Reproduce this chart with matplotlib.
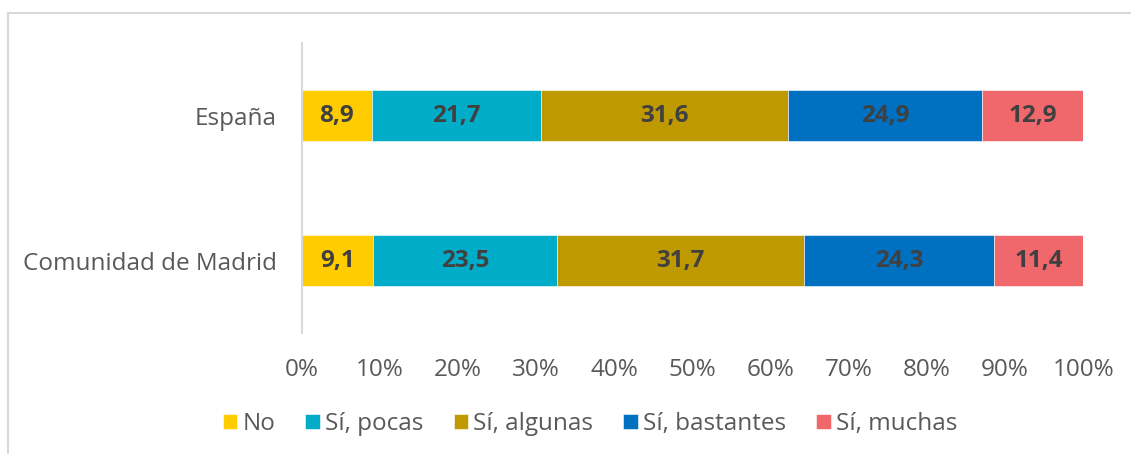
import matplotlib
matplotlib.use("Agg")
import matplotlib.pyplot as plt
from matplotlib.lines import Line2D

plt.rcParams["font.family"] = ["Open Sans", "DejaVu Sans"]

# datos
regiones = ["Comunidad de Madrid", "España"]
series = ["No", "Sí, pocas", "Sí, algunas", "Sí, bastantes", "Sí, muchas"]
madrid = [9.1, 23.5, 31.7, 24.3, 11.4]
espana = [8.9, 21.7, 31.6, 24.9, 12.9]
colores = ["#FFCC00", "#00ACC8", "#BF9900", "#0070C0", "#F0686C"]
ticks_x = [0, 10, 20, 30, 40, 50, 60, 70, 80, 90, 100]

valores = [madrid, espana]

fig = plt.figure(figsize=(11.31, 4.54), dpi=100)
ax = fig.add_axes([0.267, 0.2665, 0.6908, 0.6385])

gris_txt = "#595959"
fs = 17.5
for i, nombre in enumerate(series):
    vals = [v[i] for v in valores]
    izq = [sum(v[:i]) for v in valores]
    bars = ax.barh(range(len(regiones)), vals, left=izq, height=0.356,
                   color=colores[i], edgecolor="white", linewidth=0.4, label=nombre)
    for b, v in zip(bars, vals):
        ax.text(b.get_x() + b.get_width() / 2, b.get_y() + b.get_height() / 2,
                f"{v:.1f}".replace(".", ","), ha="center", va="center",
                fontsize=fs, fontweight="bold", color="#404040")

ax.set_xlim(0, 100)
ax.set_ylim(-0.5, 1.5)
ax.set_yticks(range(len(regiones)))
ax.set_yticklabels(regiones, fontsize=fs, color=gris_txt)
ax.set_xticks(ticks_x)
ax.set_xticklabels([f"{t}%" for t in ticks_x], fontsize=fs, color=gris_txt)
ax.tick_params(length=0)
ax.tick_params(axis="y", pad=18)
ax.tick_params(axis="x", pad=18)
for s in ["top", "right", "bottom"]:
    ax.spines[s].set_visible(False)
ax.spines["left"].set_color("#d9d9d9")
ax.spines["left"].set_linewidth(1.5)

ax.legend(loc="center", bbox_to_anchor=(590 / 1131, 1 - 424 / 454), bbox_transform=fig.transFigure,
          ncol=5, frameon=False, fontsize=fs, handlelength=0.6, handleheight=0.6,
          handletextpad=0.2, columnspacing=1.25, labelcolor=gris_txt)

# marco del gráfico
fig.add_artist(Line2D([8 / 1131, 1], [1 - 13 / 454, 1 - 13 / 454], color="#d9d9d9", lw=1.5))
fig.add_artist(Line2D([8 / 1131, 8 / 1131], [0, 1 - 13 / 454], color="#d9d9d9", lw=1.5))

fig.savefig("out.png", dpi=100)
